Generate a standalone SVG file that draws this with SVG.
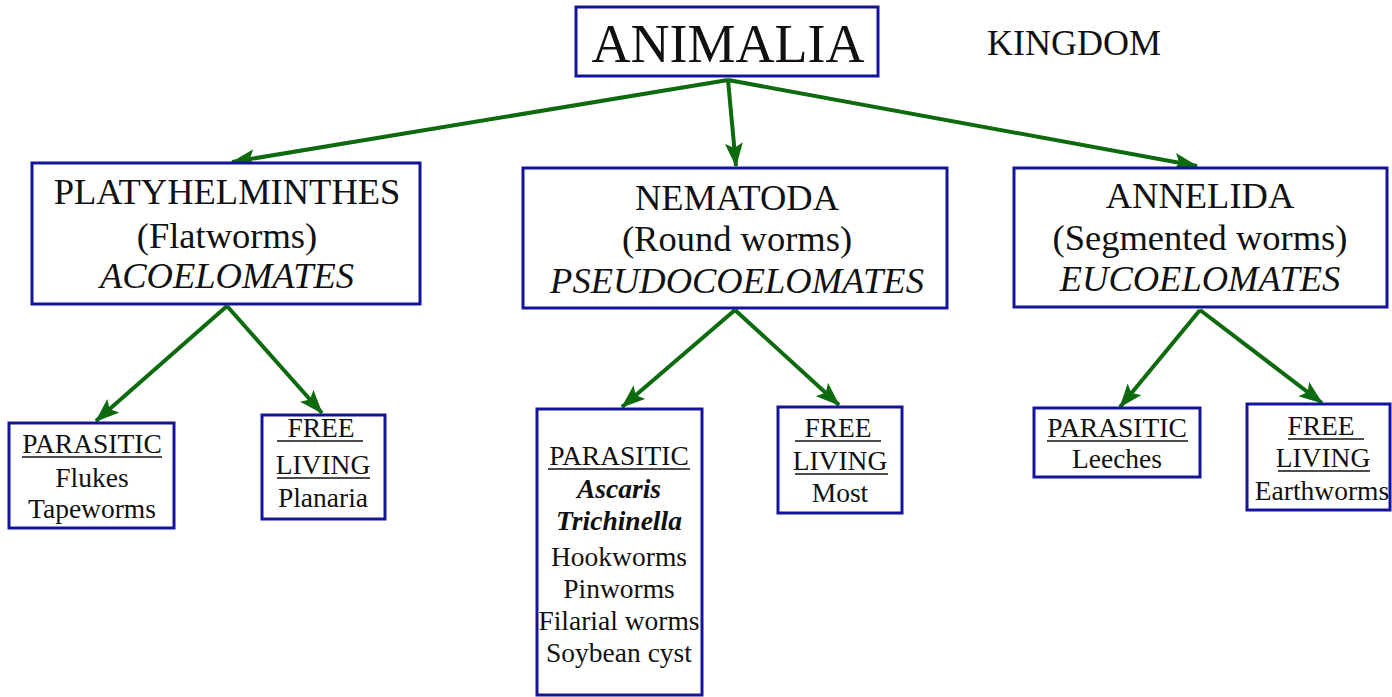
<svg xmlns="http://www.w3.org/2000/svg" width="1392" height="697" viewBox="0 0 1392 697">
<style>
.box{fill:#fff;stroke:#14149a;stroke-width:3}
.t{font-family:'Liberation Serif','Times New Roman','DejaVu Serif',serif;fill:#111;text-anchor:middle}
.big{font-size:36.5px}
.sm{font-size:27.5px}
.it{font-style:italic}
.bi{font-style:italic;font-weight:bold}
.ul{stroke:#111;stroke-width:1.5}
.con{stroke:#0e6a0e;stroke-width:4;fill:none;marker-end:url(#ah)}
</style>
<defs>
<marker id="ah" viewBox="0 0 24 18" refX="23" refY="9" markerWidth="24" markerHeight="18" orient="auto" markerUnits="userSpaceOnUse">
<path d="M0,0 L24,9 L0,18 L5,9 z" fill="#0e6a0e"/>
</marker>
</defs>
<rect width="1392" height="697" fill="#fff"/>
<g id="connectors">
<line class="con" x1="728" y1="80" x2="232" y2="162"/>
<line class="con" x1="728" y1="80" x2="736" y2="166"/>
<line class="con" x1="728" y1="80" x2="1197" y2="166"/>
<line class="con" x1="227" y1="306" x2="96" y2="421"/>
<line class="con" x1="227" y1="306" x2="322" y2="413"/>
<line class="con" x1="735" y1="310" x2="622" y2="407"/>
<line class="con" x1="735" y1="310" x2="839" y2="405"/>
<line class="con" x1="1200" y1="310" x2="1120" y2="407"/>
<line class="con" x1="1200" y1="310" x2="1322" y2="403"/>
</g>
<g id="animalia">
<rect class="box" x="576" y="7" width="302" height="69"/>
<text class="t" x="728" y="62" font-size="54">ANIMALIA</text>
</g>
<g id="kingdom">
<text class="t" x="1074" y="55" font-size="36">KINGDOM</text>
</g>
<g id="platyhelminthes">
<rect class="box" x="32" y="163" width="388" height="141"/>
<text class="t big" x="227" y="204">PLATYHELMINTHES</text>
<text class="t big" x="227" y="248">(Flatworms)</text>
<text class="t big it" x="227" y="288">ACOELOMATES</text>
</g>
<g id="nematoda">
<rect class="box" x="523" y="168" width="424" height="140"/>
<text class="t big" x="737" y="210">NEMATODA</text>
<text class="t big" x="737" y="251">(Round worms)</text>
<text class="t big it" x="737" y="293">PSEUDOCOELOMATES</text>
</g>
<g id="annelida">
<rect class="box" x="1014" y="168" width="373" height="139"/>
<text class="t big" x="1200" y="208">ANNELIDA</text>
<text class="t big" x="1200" y="250">(Segmented worms)</text>
<text class="t big it" x="1200" y="291">EUCOELOMATES</text>
</g>
<g id="platy-parasitic">
<rect class="box" x="9" y="423" width="165" height="105"/>
<text class="t sm" x="92" y="453">PARASITIC</text>
<line class="ul" x1="22" y1="457" x2="162" y2="457"/>
<text class="t sm" x="92" y="487">Flukes</text>
<text class="t sm" x="92" y="518">Tapeworms</text>
</g>
<g id="platy-free">
<rect class="box" x="262" y="415" width="123" height="104"/>
<text class="t sm" x="321" y="437">FREE</text>
<line class="ul" x1="277" y1="441" x2="363" y2="441"/>
<text class="t sm" x="323" y="474">LIVING</text>
<line class="ul" x1="277" y1="478" x2="370" y2="478"/>
<text class="t sm" x="323" y="507">Planaria</text>
</g>
<g id="nema-parasitic">
<rect class="box" x="537" y="409" width="165" height="286"/>
<text class="t sm" x="619" y="465">PARASITIC</text>
<line class="ul" x1="548" y1="469" x2="690" y2="469"/>
<text class="t sm bi" x="619" y="498">Ascaris</text>
<text class="t sm bi" x="619" y="530">Trichinella</text>
<text class="t sm" x="619" y="566">Hookworms</text>
<text class="t sm" x="619" y="598">Pinworms</text>
<text class="t sm" x="619" y="630">Filarial worms</text>
<text class="t sm" x="619" y="662">Soybean cyst</text>
</g>
<g id="nema-free">
<rect class="box" x="778" y="407" width="124" height="106"/>
<text class="t sm" x="838" y="437">FREE</text>
<line class="ul" x1="795" y1="441" x2="881" y2="441"/>
<text class="t sm" x="840" y="470">LIVING</text>
<line class="ul" x1="795" y1="474" x2="888" y2="474"/>
<text class="t sm" x="840" y="502">Most</text>
</g>
<g id="anne-parasitic">
<rect class="box" x="1034" y="408" width="166" height="69"/>
<text class="t sm" x="1117" y="437">PARASITIC</text>
<line class="ul" x1="1047" y1="441" x2="1188" y2="441"/>
<text class="t sm" x="1117" y="468">Leeches</text>
</g>
<g id="anne-free">
<rect class="box" x="1247" y="404" width="143" height="106"/>
<text class="t sm" x="1321" y="435">FREE</text>
<line class="ul" x1="1288" y1="439" x2="1364" y2="439"/>
<text class="t sm" x="1323" y="467">LIVING</text>
<line class="ul" x1="1278" y1="471" x2="1370" y2="471"/>
<text class="t sm" x="1322" y="500">Earthworms</text>
</g>
</svg>
